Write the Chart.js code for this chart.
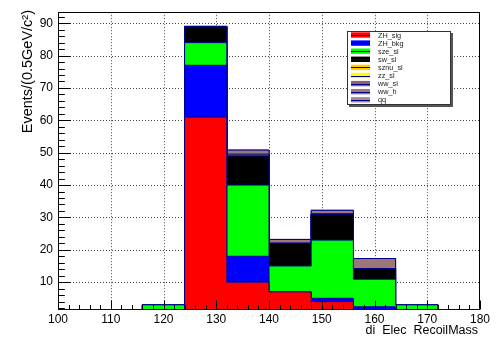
<!DOCTYPE html>
<html>
<head>
<meta charset="utf-8">
<script src="https://cdn.jsdelivr.net/npm/chart.js@4/dist/chart.umd.min.js"></script>
<style>
  html, body { margin: 0; padding: 0; background: #fff; }
  #wrap { width: 501px; height: 337px; position: relative; }
</style>
</head>
<body>
<div id="wrap"><canvas id="c"></canvas></div>
<script>
// Bin edges of the recoil-mass histogram (GeV)
const binEdges = [100, 108, 116, 124, 132, 140, 148, 156, 164, 172, 180];

// Events per bin for each stacked sample (bottom of the stack first)
const ZH_sig  = [0, 0, 0, 61, 10, 7, 4, 0, 0, 0];
const ZH_bkg  = [0, 0, 0, 16, 8, 0, 1, 2.4, 0, 0];
const sze_sl  = [0, 0, 3, 7, 22, 8, 18, 8.5, 3, 0];
const sw_sl   = [0, 0, 0, 5, 9, 7, 8, 3.3, 0, 0];
const sznu_sl = [0, 0, 0, 0, 0, 0, 0, 0, 0, 0];
const zz_sl   = [0, 0, 0, 0, 0.5, 0, 0, 0, 0, 0];
const ww_sl   = [0, 0, 0, 0, 0, 0, 0, 0, 0, 0];
const ww_h    = [0, 0, 0, 0, 1.3, 1.2, 1.2, 3.1, 0, 0];
const qq      = [0, 0, 0, 0, 0, 0, 0, 0, 0, 0];

const seriesNames  = ['ZH_sig', 'ZH_bkg', 'sze_sl', 'sw_sl', 'sznu_sl', 'zz_sl', 'ww_sl', 'ww_h', 'qq'];
const seriesValues = [ZH_sig, ZH_bkg, sze_sl, sw_sl, sznu_sl, zz_sl, ww_sl, ww_h, qq];
const seriesColors = ['#ff0000', '#0000ff', '#00ff00', '#000000', '#ffcc00', '#ffff00', '#8f6272', '#9b7777', '#a88c8c'];

// Axis ticks and titles
const xTicks = [100, 110, 120, 130, 140, 150, 160, 170, 180];
const yTicks = [10, 20, 30, 40, 50, 60, 70, 80, 90];
const yRange = [1.4, 93.4];
const xTitle = 'di  Elec  RecoilMass';
const yTitle = 'Events/(0.5GeV/c\u00B2)';

const LINE = '#000090';
const FONT = "'Liberation Sans', Arial, Helvetica, sans-serif";

// Each histogram becomes a stepped outline: one point per left bin edge plus the closing edge
function stepPoints(vals) {
  const pts = vals.map((v, i) => ({ x: binEdges[i], y: v }));
  pts.push({ x: binEdges[binEdges.length - 1], y: vals[vals.length - 1] });
  return pts;
}

const datasets = seriesNames.map((name, i) => ({
  label: name,
  data: stepPoints(seriesValues[i]),
  stepped: true,
  borderColor: LINE,
  borderWidth: 1,
  backgroundColor: seriesColors[i],
  fill: i === 0 ? 'origin' : '-1',
  pointRadius: 0,
  tension: 0
}));

function seg(ctx, x1, y1, x2, y2) {
  ctx.beginPath(); ctx.moveTo(x1, y1); ctx.lineTo(x2, y2); ctx.stroke();
}

// Frame, dotted grid, inward tick marks, axis titles and the boxed legend
const rootStyle = {
  id: 'rootStyle',
  beforeDatasetsDraw(chart) {
    const { ctx, chartArea: a, scales: { x, y } } = chart;
    ctx.save();
    ctx.strokeStyle = '#444';
    ctx.lineWidth = 1;
    ctx.setLineDash([1, 2]);
    xTicks.forEach(t => {
      if (t <= x.min || t >= x.max) return;
      const px = Math.round(x.getPixelForValue(t)) + 0.5;
      seg(ctx, px, a.top, px, a.bottom);
    });
    yTicks.forEach(t => {
      const py = Math.round(y.getPixelForValue(t)) + 0.5;
      seg(ctx, a.left, py, a.right, py);
    });
    ctx.restore();
  },
  afterDatasetsDraw(chart) {
    const { ctx, chartArea: a, scales: { x, y } } = chart;
    ctx.save();
    ctx.lineWidth = 1;
    ctx.strokeStyle = '#000';
    // frame
    ctx.strokeRect(Math.round(a.left) + 0.5, Math.round(a.top) + 0.5,
                   Math.round(a.right - a.left) - 1, Math.round(a.bottom - a.top) - 1);
    ctx.strokeStyle = LINE;
    seg(ctx, a.left, Math.round(a.bottom) - 0.5, a.right, Math.round(a.bottom) - 0.5);
    ctx.strokeStyle = '#000';
    // x ticks: major every 10, minor every 2
    const xb = Math.round(a.bottom) - 0.5;
    for (let v = x.min; v <= x.max + 1e-6; v += 2) {
      const px = Math.round(x.getPixelForValue(v)) + 0.5;
      const len = (Math.round(v) % 10 === 0) ? 9 : 4.5;
      seg(ctx, px, xb, px, xb - len);
    }
    // y ticks: major every 10, minor every 2
    const yl = Math.round(a.left) + 0.5;
    for (let v = 2; v <= y.max; v += 2) {
      const py = Math.round(y.getPixelForValue(v)) + 0.5;
      const len = (v % 10 === 0) ? 12.5 : 6.3;
      seg(ctx, yl, py, yl + len, py);
    }

    // axis titles
    ctx.fillStyle = '#000';
    ctx.textAlign = 'right';
    ctx.textBaseline = 'middle';
    ctx.font = '12.5px ' + FONT;
    ctx.fillText(xTitle, 478, 331);
    ctx.save();
    ctx.font = '14.5px ' + FONT;
    ctx.translate(28, 10);
    ctx.rotate(-Math.PI / 2);
    ctx.fillText(yTitle, 0, 0);
    ctx.restore();

    // legend box with shadow
    const lx = 347, ly = 31, lw = 104, lh = 74;
    ctx.fillStyle = '#555';
    ctx.fillRect(lx + 2, ly + 2, lw, lh);
    ctx.fillStyle = '#fff';
    ctx.fillRect(lx, ly, lw, lh);
    ctx.strokeStyle = '#333';
    ctx.strokeRect(lx + 0.5, ly + 0.5, lw - 1, lh - 1);
    ctx.font = '7.3px ' + FONT;
    ctx.textAlign = 'left';
    ctx.textBaseline = 'middle';
    seriesNames.forEach((name, i) => {
      const cy = 35 + i * 8.1;
      ctx.fillStyle = seriesColors[i];
      ctx.fillRect(351, cy - 2.7, 19, 5.4);
      ctx.strokeStyle = LINE;
      seg(ctx, 351, Math.round(cy) + 0.5, 370, Math.round(cy) + 0.5);
      ctx.fillStyle = '#222';
      ctx.fillText(name, 378, cy + 0.5);
    });
    ctx.restore();
  }
};

Chart.defaults.font.family = FONT;
Chart.defaults.color = '#000';

new Chart(document.getElementById('c'), {
  type: 'line',
  data: { datasets },
  options: {
    responsive: true,
    maintainAspectRatio: false,
    animation: false,
    devicePixelRatio: 1,
    events: [],
    layout: { padding: { left: 0, top: 12, right: 21, bottom: 0 } },
    plugins: { legend: { display: false }, tooltip: { enabled: false } },
    scales: {
      x: {
        type: 'linear',
        min: binEdges[0],
        max: binEdges[binEdges.length - 1],
        grid: { display: false, drawTicks: false },
        border: { display: false },
        afterBuildTicks: s => { s.ticks = xTicks.map(v => ({ value: v })); },
        afterFit: s => { s.height = 27; },
        ticks: { font: { size: 12 }, padding: 2, autoSkip: false, maxRotation: 0, callback: v => String(v) }
      },
      y: {
        type: 'linear',
        stacked: true,
        min: yRange[0],
        max: yRange[1],
        grid: { display: false, drawTicks: false },
        border: { display: false },
        afterBuildTicks: s => { s.ticks = yTicks.map(v => ({ value: v })); },
        afterFit: s => { s.width = 58; },
        ticks: { font: { size: 12 }, padding: 5, callback: v => String(v) }
      }
    }
  },
  plugins: [rootStyle]
});
</script>
</body>
</html>
